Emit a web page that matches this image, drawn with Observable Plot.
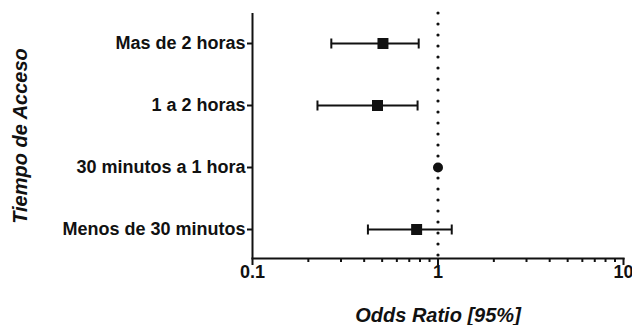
<!DOCTYPE html>
<html>
<head>
<meta charset="utf-8">
<script src="https://cdn.jsdelivr.net/npm/d3@7"></script>
<script src="https://cdn.jsdelivr.net/npm/@observablehq/plot@0.6"></script>
<style>
  html, body { margin: 0; padding: 0; background: #fff; }
  #chart svg { display: block; overflow: visible; }
  #chart g[aria-label="x-axis label"] text,
  #chart g[aria-label="y-axis label"] text { font-style: italic; font-size: 20px; }
</style>
</head>
<body>
<div id="chart"></div>
<script>
const categories = ["Mas de 2 horas", "1 a 2 horas", "30 minutos a 1 hora", "Menos de 30 minutos"];
const oddsRatio = [0.505, 0.472, 1.0, 0.767];
const ciLower = [0.266, 0.224, null, 0.419];
const ciUpper = [0.787, 0.776, null, 1.186];
const markerShape = ["square", "square", "circle", "square"];
const majorTicks = [0.1, 1, 10];
const majorTickLabels = ["0.1", "1", "10"];
const minorTicks = [0.2, 0.3, 0.4, 0.5, 0.6, 0.7, 0.8, 0.9, 2, 3, 4, 5, 6, 7, 8, 9];
const referenceOR = [1];
const xLabel = "Odds Ratio [95%]";
const yLabel = "Tiempo de Acceso";

const rows = categories.map((c, i) => ({
  category: c, or: oddsRatio[i], lo: ciLower[i], hi: ciUpper[i], shape: markerShape[i]
}));
const ciRows = rows.filter(d => d.lo != null);

// vertical bar symbol for error-bar caps
const capSymbol = {
  draw(context, size) {
    const r = Math.sqrt(size / Math.PI);
    context.moveTo(0, -r);
    context.lineTo(0, r);
  }
};

const chart = Plot.plot({
  width: 632,
  height: 325,
  marginLeft: 252,
  marginRight: 9,
  marginTop: 13,
  marginBottom: 67,
  style: { fontFamily: "'Liberation Sans', Arial, sans-serif", fontWeight: "bold", fontSize: "18px", color: "#111", background: "#fff" },
  x: { type: "log", domain: [0.1, 10] },
  y: { type: "point", domain: categories, padding: 0.475 },
  marks: [
    Plot.ruleX(referenceOR, { stroke: "#111", strokeWidth: 3.2, strokeDasharray: "0,11", strokeLinecap: "round" }),
    Plot.ruleY(ciRows, { x1: "lo", x2: "hi", y: "category", stroke: "#111", strokeWidth: 2 }),
    Plot.dot(ciRows, { x: "lo", y: "category", symbol: capSymbol, r: 5, stroke: "#111", strokeWidth: 2, fill: "none" }),
    Plot.dot(ciRows, { x: "hi", y: "category", symbol: capSymbol, r: 5, stroke: "#111", strokeWidth: 2, fill: "none" }),
    Plot.dot(rows.filter(d => d.shape === "square"), { x: "or", y: "category", symbol: "square", r: 6.2, fill: "#111", stroke: null }),
    Plot.dot(rows.filter(d => d.shape === "circle"), { x: "or", y: "category", symbol: "circle", r: 5, fill: "#111", stroke: null }),
    Plot.axisX({ ticks: minorTicks, tickSize: 4, strokeWidth: 2, tickFormat: () => "", label: null }),
    Plot.axisX({ ticks: majorTicks, tickSize: 7, strokeWidth: 2, tickPadding: 0,
      tickFormat: d => majorTickLabels[majorTicks.indexOf(d)],
      label: xLabel, labelAnchor: "center", labelOffset: 63, labelArrow: "none" }),
    Plot.axisY({ tickSize: 5, strokeWidth: 2, tickPadding: 2,
      label: yLabel, labelAnchor: "center", labelOffset: 240, labelArrow: "none" }),
    Plot.ruleX([0.1], { stroke: "#111", strokeWidth: 2 }),
    Plot.frame({ anchor: "bottom", stroke: "#111", strokeWidth: 2.2 })
  ]
});
document.getElementById("chart").append(chart);
</script>
</body>
</html>
